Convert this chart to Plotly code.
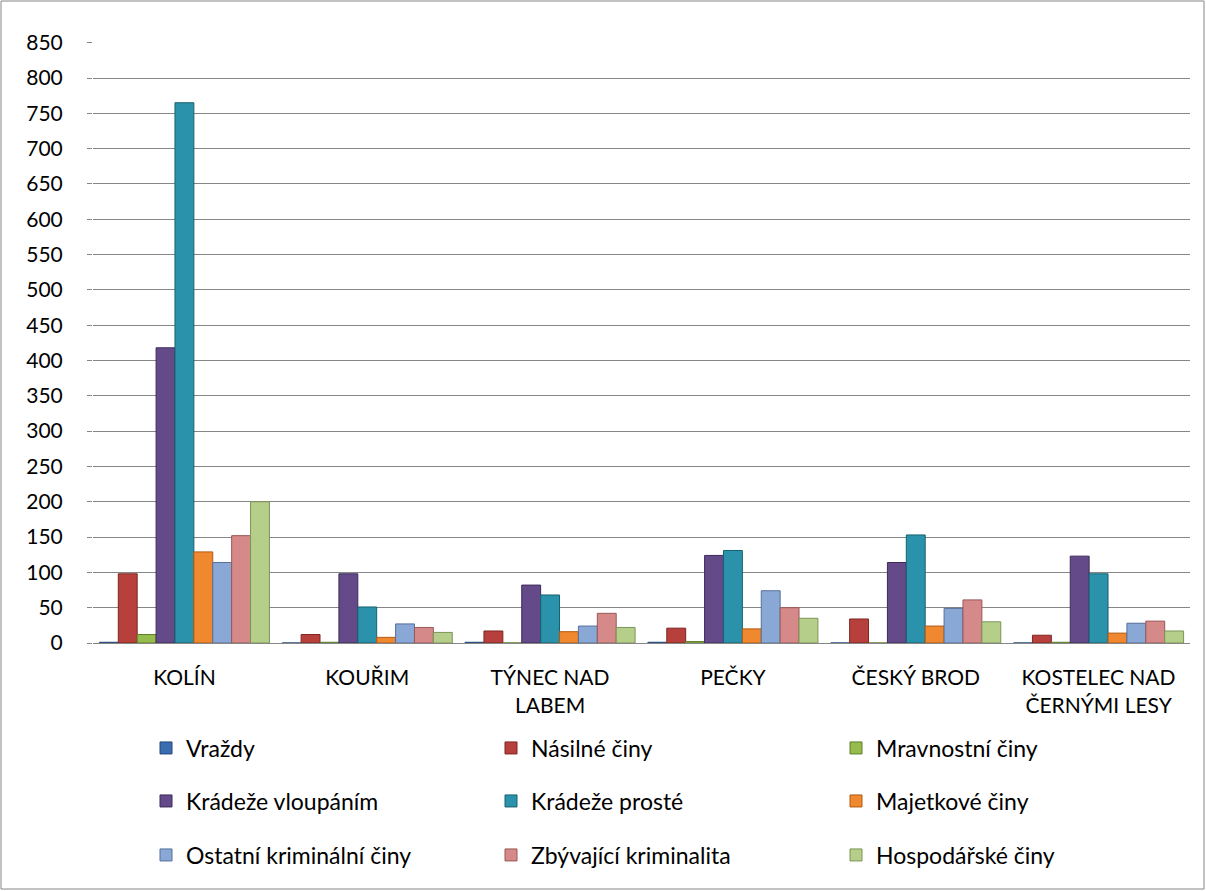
import plotly.graph_objects as go

categories = ["KOLÍN", "KOUŘIM", "TÝNEC NAD<br>LABEM", "PEČKY", "ČESKÝ BROD", "KOSTELEC NAD<br>ČERNÝMI LESY"]
series_names = ["Vraždy", "Násilné činy", "Mravnostní činy",
                "Krádeže vloupáním", "Krádeže prosté", "Majetkové činy",
                "Ostatní kriminální činy", "Zbývající kriminalita", "Hospodářské činy"]
vrazdy = [1, 0, 1, 1, 0, 0]
nasilne = [98, 12, 17, 21, 34, 11]
mravnostni = [12, 1, 0, 2, 0, 1]
vloupanim = [418, 98, 82, 124, 114, 123]
proste = [765, 51, 68, 131, 153, 98]
majetkove = [129, 8, 16, 20, 24, 14]
ostatni = [114, 27, 24, 74, 49, 28]
zbyvajici = [152, 22, 42, 50, 61, 31]
hospodarske = [200, 15, 22, 35, 30, 17]
y_ticks = list(range(0, 851, 50))

series_values = [vrazdy, nasilne, mravnostni, vloupanim, proste, majetkove, ostatni, zbyvajici, hospodarske]
fill_colors = ["#3a6db0", "#b8403c", "#95bc4c", "#654a8a", "#2a93ab", "#f0882f", "#8aa8d6", "#d58a89", "#b5cf8a"]
line_colors = ["#24477a", "#7d2522", "#5f7d2a", "#3d2a5a", "#17606f", "#b05a12", "#55709c", "#985857", "#7c9456"]
legend_ids = ["legend", "legend", "legend", "legend2", "legend2", "legend2", "legend3", "legend3", "legend3"]

FONT = "Lato, Calibri, Carlito, sans-serif"

fig = go.Figure()
for name, vals, fc, lc, lg in zip(series_names, series_values, fill_colors, line_colors, legend_ids):
    fig.add_trace(go.Bar(
        name=name, x=categories, y=vals,
        marker=dict(color=fc, line=dict(color=lc, width=1)),
        legend=lg,
    ))

PL, PR, PT, PB = 93, 16, 42, 248
W, H = 1206, 891
pw = W - PL - PR
ph = H - PT - PB

def leg(ypix):
    return dict(orientation="h", x=(146 - PL) / pw, xanchor="left",
                y=(643 - ypix) / ph, yanchor="middle",
                entrywidth=300, entrywidthmode="pixels",
                font=dict(family=FONT, size=23, color="#000000"),
                bgcolor="rgba(0,0,0,0)", traceorder="normal")

fig.update_layout(
    width=W, height=H,
    margin=dict(l=PL, r=PR, t=PT, b=PB, autoexpand=False),
    paper_bgcolor="white", plot_bgcolor="white",
    barmode="group", bargap=0.07, bargroupgap=0,
    font=dict(family=FONT, size=21, color="#000000"),
    legend=leg(748), legend2=leg(801), legend3=leg(855),
    xaxis=dict(showgrid=False, showline=True, linecolor="#868686", linewidth=1,
               ticks="", tickfont=dict(size=21), ticklabelstandoff=16),
    yaxis=dict(range=[0, 851], tickvals=y_ticks, showgrid=True, gridcolor="#868686",
               gridwidth=1, zeroline=False, showline=False, ticks="outside",
               ticklen=5, tickcolor="#868686", tickfont=dict(size=21),
               ticklabelstandoff=20),
    shapes=[dict(type="rect", xref="paper", yref="paper",
                 x0=(1 - PL) / pw, x1=(W - 2 - PL) / pw,
                 y0=(643 - (H - 2)) / ph, y1=(643 - 1) / ph,
                 line=dict(color="#868686", width=1), fillcolor="rgba(0,0,0,0)", layer="below")],
)

fig.write_html("out.html", config={"displayModeBar": False},
               post_script="document.body.style.margin='0';document.body.style.overflow='hidden';")
